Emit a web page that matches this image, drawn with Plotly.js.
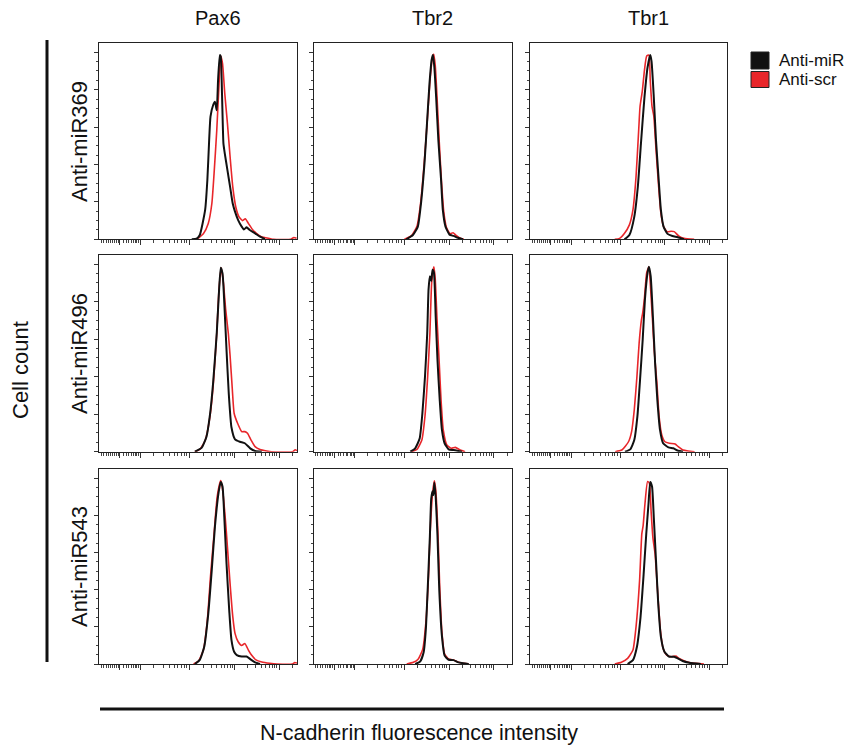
<!DOCTYPE html>
<html>
<head>
<meta charset="utf-8">
<script src="https://cdn.plot.ly/plotly-3.0.1.min.js"></script>
<style>html,body{margin:0;padding:0;background:#fff;}#chart{width:858px;height:747px;}</style>
</head>
<body>
<div id="chart"></div>
<script>
// ---- labels ----
const markers = ['Pax6', 'Tbr2', 'Tbr1'];
const treatments = ['Anti-miR369', 'Anti-miR496', 'Anti-miR543'];
const seriesNames = ['Anti-miR', 'Anti-scr'];
const xTitle = 'N-cadherin fluorescence intensity';
const yTitle = 'Cell count';

// x values are in display decades (logicle-like scale), y is normalised cell count
// ---- row 1: Anti-miR369 ----
const pax6_369_miR_x = [3.04, 3.15, 3.22, 3.34, 3.39, 3.43, 3.46, 3.52, 3.56, 3.60, 3.63, 3.67, 3.69, 3.72, 3.75, 3.78, 3.84, 3.90, 3.96, 4.01, 4.08, 4.16, 4.21, 4.27, 4.34, 4.46, 4.57, 4.68];
const pax6_369_miR_y = [0, 0.004, 0.023, 0.157, 0.317, 0.53, 0.656, 0.718, 0.736, 0.69, 0.852, 0.986, 0.977, 0.763, 0.513, 0.46, 0.37, 0.28, 0.19, 0.148, 0.103, 0.068, 0.053, 0.064, 0.05, 0.032, 0.014, 0.002];
const pax6_369_scr_x = [3.15, 3.30, 3.41, 3.49, 3.54, 3.60, 3.65, 3.69, 3.73, 3.78, 3.84, 3.90, 3.96, 4.03, 4.10, 4.18, 4.24, 4.31, 4.40, 4.49, 4.60, 4.79, 4.87, 5.26, 5.33, 5.39];
const pax6_369_scr_y = [0, 0.03, 0.085, 0.19, 0.35, 0.58, 0.82, 0.98, 0.94, 0.78, 0.62, 0.44, 0.28, 0.17, 0.12, 0.10, 0.11, 0.085, 0.053, 0.032, 0.014, 0.004, 0, 0, 0.01, 0.006];

const tbr2_369_miR_x = [3.04, 3.19, 3.30, 3.37, 3.45, 3.51, 3.56, 3.61, 3.64, 3.67, 3.71, 3.76, 3.82, 3.86, 3.92, 4.01, 4.10, 4.20, 4.31];
const tbr2_369_miR_y = [0, 0.023, 0.068, 0.19, 0.41, 0.64, 0.83, 0.96, 0.985, 0.92, 0.76, 0.53, 0.32, 0.157, 0.068, 0.025, 0.018, 0.008, 0];
const tbr2_369_scr_x = [3.00, 3.16, 3.28, 3.36, 3.44, 3.51, 3.57, 3.62, 3.655, 3.69, 3.73, 3.78, 3.83, 3.88, 3.94, 4.02, 4.09, 4.14, 4.22, 4.33];
const tbr2_369_scr_y = [0, 0.02, 0.07, 0.19, 0.40, 0.63, 0.84, 0.96, 0.99, 0.93, 0.76, 0.52, 0.31, 0.15, 0.065, 0.03, 0.035, 0.025, 0.01, 0];

const tbr1_369_miR_x = [3.09, 3.20, 3.31, 3.39, 3.46, 3.54, 3.61, 3.67, 3.70, 3.75, 3.80, 3.86, 3.91, 3.97, 4.06, 4.17, 4.29, 4.43];
const tbr1_369_miR_y = [0, 0.023, 0.12, 0.28, 0.51, 0.76, 0.92, 0.985, 0.95, 0.76, 0.53, 0.32, 0.157, 0.068, 0.029, 0.018, 0.011, 0];
const tbr1_369_scr_x = [2.87, 2.98, 3.09, 3.20, 3.28, 3.35, 3.41, 3.44, 3.49, 3.54, 3.59, 3.64, 3.67, 3.71, 3.75, 3.80, 3.86, 3.91, 3.97, 4.05, 4.14, 4.21, 4.31, 4.43, 4.66];
const tbr1_369_scr_y = [0, 0.005, 0.032, 0.077, 0.157, 0.335, 0.585, 0.71, 0.79, 0.905, 0.98, 0.985, 0.85, 0.71, 0.66, 0.48, 0.28, 0.14, 0.068, 0.041, 0.043, 0.041, 0.018, 0.005, 0];

// ---- row 2: Anti-miR496 ----
const pax6_496_miR_x = [3.11, 3.26, 3.37, 3.45, 3.52, 3.60, 3.65, 3.69, 3.73, 3.77, 3.82, 3.87, 3.93, 4.01, 4.12, 4.23, 4.35, 4.46, 4.61];
const pax6_496_miR_y = [0, 0.02, 0.08, 0.20, 0.37, 0.63, 0.85, 0.98, 0.95, 0.79, 0.54, 0.31, 0.13, 0.066, 0.053, 0.045, 0.018, 0.004, 0];
const pax6_496_scr_x = [3.11, 3.22, 3.34, 3.45, 3.52, 3.60, 3.65, 3.70, 3.75, 3.80, 3.86, 3.90, 3.95, 3.99, 4.07, 4.16, 4.23, 4.29, 4.37, 4.46, 4.57, 4.72, 4.83, 5.30, 5.36, 5.40];
const pax6_496_scr_y = [0, 0.012, 0.06, 0.19, 0.35, 0.63, 0.86, 0.98, 0.90, 0.76, 0.63, 0.51, 0.33, 0.205, 0.15, 0.107, 0.107, 0.098, 0.062, 0.027, 0.012, 0.004, 0, 0, 0.01, 0.006];

const tbr2_496_miR_x = [3.13, 3.24, 3.34, 3.40, 3.46, 3.51, 3.54, 3.57, 3.60, 3.63, 3.66, 3.70, 3.74, 3.79, 3.84, 3.90, 3.99, 4.10, 4.21, 4.29];
const tbr2_496_miR_y = [0, 0.018, 0.07, 0.20, 0.40, 0.63, 0.865, 0.935, 0.91, 0.97, 0.955, 0.72, 0.49, 0.277, 0.116, 0.045, 0.0125, 0.009, 0.004, 0];
const tbr2_496_scr_x = [3.16, 3.28, 3.39, 3.46, 3.52, 3.57, 3.61, 3.66, 3.69, 3.73, 3.78, 3.82, 3.87, 3.95, 4.05, 4.14, 4.25, 4.36];
const tbr2_496_scr_y = [0, 0.0125, 0.0625, 0.19, 0.40, 0.63, 0.90, 0.985, 0.92, 0.705, 0.47, 0.277, 0.116, 0.036, 0.018, 0.023, 0.009, 0];

const tbr1_496_miR_x = [3.10, 3.22, 3.31, 3.38, 3.44, 3.50, 3.55, 3.61, 3.64, 3.68, 3.73, 3.78, 3.83, 3.89, 3.96, 4.08, 4.19, 4.30, 4.41];
const tbr1_496_miR_y = [0, 0.0125, 0.062, 0.187, 0.383, 0.597, 0.81, 0.954, 0.985, 0.936, 0.72, 0.47, 0.276, 0.116, 0.045, 0.023, 0.018, 0.005, 0];
const tbr1_496_scr_x = [2.88, 3.03, 3.18, 3.25, 3.31, 3.37, 3.42, 3.47, 3.50, 3.54, 3.59, 3.64, 3.67, 3.72, 3.76, 3.82, 3.87, 3.93, 4.00, 4.10, 4.23, 4.30, 4.41, 4.52, 4.67];
const tbr1_496_scr_y = [0, 0.009, 0.053, 0.107, 0.223, 0.40, 0.58, 0.70, 0.74, 0.82, 0.954, 0.985, 0.90, 0.704, 0.54, 0.365, 0.187, 0.089, 0.053, 0.045, 0.041, 0.027, 0.009, 0.004, 0];

// ---- row 3: Anti-miR543 ----
const pax6_543_miR_x = [3.11, 3.22, 3.32, 3.41, 3.49, 3.56, 3.64, 3.69, 3.73, 3.77, 3.82, 3.88, 3.93, 3.99, 4.05, 4.16, 4.27, 4.36, 4.46, 4.57];
const pax6_543_miR_y = [0, 0.022, 0.093, 0.27, 0.51, 0.74, 0.92, 0.98, 0.955, 0.79, 0.54, 0.29, 0.13, 0.066, 0.048, 0.04, 0.04, 0.025, 0.009, 0];
const pax6_543_scr_x = [3.08, 3.19, 3.30, 3.39, 3.46, 3.54, 3.61, 3.69, 3.73, 3.79, 3.84, 3.90, 3.96, 4.01, 4.08, 4.16, 4.23, 4.31, 4.38, 4.48, 4.61, 4.79, 4.94, 5.30, 5.35, 5.40];
const pax6_543_scr_y = [0, 0.016, 0.075, 0.237, 0.47, 0.70, 0.90, 0.987, 0.94, 0.79, 0.63, 0.43, 0.255, 0.165, 0.12, 0.10, 0.11, 0.075, 0.048, 0.022, 0.011, 0.004, 0, 0, 0.008, 0.005];

const tbr2_543_miR_x = [3.24, 3.35, 3.43, 3.48, 3.52, 3.57, 3.60, 3.63, 3.65, 3.67, 3.70, 3.74, 3.78, 3.84, 3.90, 3.99, 4.10, 4.21, 4.32, 4.44];
const tbr2_543_miR_y = [0, 0.0125, 0.063, 0.19, 0.40, 0.69, 0.89, 0.93, 0.91, 0.977, 0.90, 0.69, 0.40, 0.15, 0.045, 0.023, 0.021, 0.009, 0.004, 0];
const tbr2_543_scr_x = [3.05, 3.20, 3.31, 3.41, 3.48, 3.54, 3.58, 3.63, 3.67, 3.70, 3.75, 3.79, 3.84, 3.90, 3.99, 4.08, 4.18, 4.29, 4.44];
const tbr2_543_scr_y = [0, 0.009, 0.027, 0.08, 0.224, 0.475, 0.726, 0.92, 0.986, 0.94, 0.71, 0.42, 0.17, 0.054, 0.027, 0.023, 0.0125, 0.005, 0];

const tbr1_543_miR_x = [3.16, 3.28, 3.37, 3.45, 3.52, 3.58, 3.63, 3.67, 3.71, 3.75, 3.80, 3.85, 3.91, 3.99, 4.10, 4.21, 4.29, 4.40, 4.55, 4.81];
const tbr1_543_miR_y = [0, 0.021, 0.093, 0.25, 0.48, 0.70, 0.86, 0.98, 0.955, 0.79, 0.555, 0.324, 0.146, 0.066, 0.039, 0.039, 0.03, 0.016, 0.007, 0];
const tbr1_543_scr_x = [2.87, 3.02, 3.16, 3.28, 3.35, 3.43, 3.48, 3.51, 3.55, 3.61, 3.65, 3.69, 3.73, 3.78, 3.84, 3.90, 3.96, 4.04, 4.15, 4.25, 4.32, 4.44, 4.58, 4.88];
const tbr1_543_scr_y = [0, 0.009, 0.03, 0.075, 0.2, 0.45, 0.70, 0.745, 0.86, 0.982, 0.973, 0.82, 0.68, 0.59, 0.377, 0.18, 0.084, 0.048, 0.039, 0.043, 0.03, 0.016, 0.007, 0];

// ---- axis ticks (display-decade positions) ----
const xMajorTicks = [1.43, 1.89, 3, 4, 5];
const xMinorTicks = [1.01, 1.06, 1.12, 1.17, 1.22, 1.27, 1.31, 1.35, 1.39,
  1.51, 1.57, 1.63, 1.69, 1.73, 1.78, 1.81, 1.85,
  2.18, 2.40, 2.55, 2.66, 2.73, 2.81, 2.87, 2.93,
  3.30, 3.48, 3.60, 3.70, 3.78, 3.85, 3.90, 3.95,
  4.30, 4.48, 4.60, 4.70, 4.78, 4.85, 4.90, 4.95, 5.30];
const yMajorTicks = [0, 0.2, 0.4, 0.6, 0.8, 1.0];
const xRange = [0.96, 5.40];
const yRange = [0, 1.048];

// ---- assemble panels ----
const panelData = [
  [[pax6_369_miR_x, pax6_369_miR_y, pax6_369_scr_x, pax6_369_scr_y],
   [tbr2_369_miR_x, tbr2_369_miR_y, tbr2_369_scr_x, tbr2_369_scr_y],
   [tbr1_369_miR_x, tbr1_369_miR_y, tbr1_369_scr_x, tbr1_369_scr_y]],
  [[pax6_496_miR_x, pax6_496_miR_y, pax6_496_scr_x, pax6_496_scr_y],
   [tbr2_496_miR_x, tbr2_496_miR_y, tbr2_496_scr_x, tbr2_496_scr_y],
   [tbr1_496_miR_x, tbr1_496_miR_y, tbr1_496_scr_x, tbr1_496_scr_y]],
  [[pax6_543_miR_x, pax6_543_miR_y, pax6_543_scr_x, pax6_543_scr_y],
   [tbr2_543_miR_x, tbr2_543_miR_y, tbr2_543_scr_x, tbr2_543_scr_y],
   [tbr1_543_miR_x, tbr1_543_miR_y, tbr1_543_scr_x, tbr1_543_scr_y]]
];

const W = 858, H = 747;
const colPx = [[99, 297], [313.5, 511.5], [530, 727]];
const rowPx = [[43.3, 239.3], [255, 451.7], [469.3, 664]];
const BLACK = '#111111', RED = '#e8262a';
const FONT = 'Liberation Sans, Arial, sans-serif';

const traces = [];
const layout = {
  width: W, height: H,
  margin: {l: 0, r: 0, t: 0, b: 0},
  paper_bgcolor: '#ffffff', plot_bgcolor: '#ffffff',
  showlegend: false,
  font: {family: FONT, color: '#111'},
  shapes: [], annotations: []
};

let k = 0;
for (let r = 0; r < 3; r++) {
  for (let c = 0; c < 3; c++) {
    k++;
    const sx = k === 1 ? '' : String(k);
    const [mx, my, sxv, syv] = panelData[r][c];
    traces.push({x: sxv, y: syv, xaxis: 'x' + sx, yaxis: 'y' + sx, type: 'scatter', mode: 'lines',
      name: seriesNames[1], line: {color: RED, width: 1.6, shape: 'spline', smoothing: 0.5}, hoverinfo: 'skip'});
    traces.push({x: mx, y: my, xaxis: 'x' + sx, yaxis: 'y' + sx, type: 'scatter', mode: 'lines',
      name: seriesNames[0], line: {color: BLACK, width: 2, shape: 'spline', smoothing: 0.5}, hoverinfo: 'skip'});
    layout['xaxis' + sx] = {
      domain: [colPx[c][0] / W, colPx[c][1] / W], anchor: 'y' + sx, range: xRange,
      showgrid: false, zeroline: false, showline: true, linecolor: '#222', linewidth: 1, mirror: true,
      ticks: 'outside', tickmode: 'array', tickvals: xMajorTicks, ticklen: 5, tickwidth: 1, tickcolor: '#333',
      showticklabels: false,
      minor: {tickmode: 'array', tickvals: xMinorTicks, ticks: 'outside', ticklen: 3, tickwidth: 1, tickcolor: '#444', showgrid: false}
    };
    layout['yaxis' + sx] = {
      domain: [1 - rowPx[r][1] / H, 1 - rowPx[r][0] / H], anchor: 'x' + sx, range: yRange,
      showgrid: false, zeroline: false, showline: true, linecolor: '#222', linewidth: 1, mirror: true,
      ticks: 'outside', tickmode: 'array', tickvals: yMajorTicks, ticklen: 4, tickwidth: 1, tickcolor: '#333',
      showticklabels: false,
      minor: {dtick: 0.05, ticks: 'outside', ticklen: 2, tickwidth: 1, tickcolor: '#444', showgrid: false}
    };
  }
}

function ann(text, px, py, size, angle) {
  return {text: text, xref: 'paper', yref: 'paper', x: px / W, y: 1 - py / H,
    xanchor: 'center', yanchor: 'middle', showarrow: false, textangle: angle || 0,
    font: {family: FONT, size: size, color: '#111'}};
}
const headerX = [218, 433, 648];
markers.forEach((m, i) => layout.annotations.push(ann(m, headerX[i], 18, 20)));
const rowY = [142, 354, 567];
treatments.forEach((t, i) => layout.annotations.push(ann(t, 79, rowY[i], 22, -90)));
layout.annotations.push(ann(yTitle, 21, 370, 22, -90));
layout.annotations.push(ann(xTitle, 419, 733, 21.5));

// bracket lines
layout.shapes.push({type: 'line', xref: 'paper', yref: 'paper', x0: 47 / W, x1: 47 / W, y0: 1 - 40 / H, y1: 1 - 662 / H, line: {color: '#111', width: 3}});
layout.shapes.push({type: 'line', xref: 'paper', yref: 'paper', x0: 100 / W, x1: 724 / W, y0: 1 - 709 / H, y1: 1 - 709 / H, line: {color: '#111', width: 3}});

// legend
const legColors = [BLACK, RED];
const legY = [[52, 69], [71.5, 87.5]];
seriesNames.forEach((n, i) => {
  layout.shapes.push({type: 'rect', xref: 'paper', yref: 'paper', x0: 751 / W, x1: 769 / W,
    y0: 1 - legY[i][1] / H, y1: 1 - legY[i][0] / H, fillcolor: legColors[i], line: {color: '#222', width: 1}});
  layout.annotations.push({text: n, xref: 'paper', yref: 'paper', x: 777 / W, y: 1 - ((legY[i][0] + legY[i][1]) / 2) / H,
    xanchor: 'left', yanchor: 'middle', showarrow: false, font: {family: FONT, size: 17, color: '#111'}});
});

Plotly.newPlot('chart', traces, layout, {staticPlot: true, displayModeBar: false});
</script>
</body>
</html>
